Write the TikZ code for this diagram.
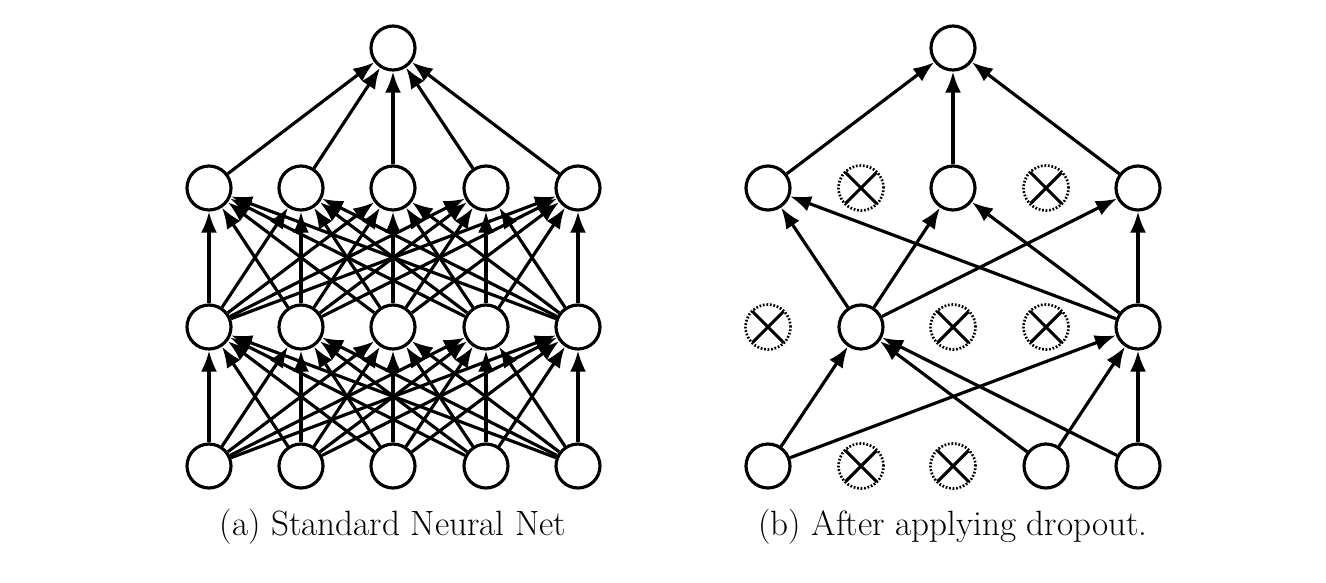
\documentclass[tikz,border=0pt]{standalone}
\usetikzlibrary{arrows.meta}
\tikzset{
  neuron/.style={circle, draw, line width=1.8pt, minimum size=0.88cm, inner sep=0pt},
  dropped/.style={circle, draw, dash pattern=on 1pt off 1pt, line width=1.5pt, minimum size=0.9cm, inner sep=0pt,
    path picture={\draw[solid, line width=1.8pt, shorten >=0.2cm, shorten <=0.2cm]
      (path picture bounding box.north west) -- (path picture bounding box.south east)
      (path picture bounding box.north east) -- (path picture bounding box.south west);}},
  conn/.style={-{Latex[length=0.42cm,width=0.32cm]}, line width=1.8pt},
  caption/.style={font=\fontsize{20}{24}\selectfont},
}
\begin{document}
\begin{tikzpicture}[x=0.02cm, y=-0.02cm]
    \useasboundingbox (0,0) rectangle (1326,582);

    % (a) standard net
    \foreach \l/\y in {0/466,1/327,2/188}
      \foreach \i/\x in {1/209,2/301,3/393,4/486,5/578}
        \node[neuron] (a\l\i) at (\x,\y) {};
    \node[neuron] (atop) at (393,48) {};
    \foreach \i in {1,...,5}
      \foreach \j in {1,...,5} {
        \draw[conn] (a0\i) -- (a1\j);
        \draw[conn] (a1\i) -- (a2\j);
      }
    \foreach \i in {1,...,5}
      \draw[conn] (a2\i) -- (atop);
    \node[caption] (capa) at (393,527) {(a) Standard Neural Net};

    % (b) after dropout
    \foreach \i/\x/\s in {1/768/neuron,2/861/dropped,3/953/dropped,4/1046/neuron,5/1138/neuron}
      \node[\s] (b0\i) at (\x,466) {};
    \foreach \i/\x/\s in {1/768/dropped,2/861/neuron,3/953/dropped,4/1046/dropped,5/1138/neuron}
      \node[\s] (b1\i) at (\x,327) {};
    \foreach \i/\x/\s in {1/768/neuron,2/861/dropped,3/953/neuron,4/1046/dropped,5/1138/neuron}
      \node[\s] (b2\i) at (\x,188) {};
    \node[neuron] (btop) at (953,48) {};
    \foreach \s/\t in {b01/b12,b01/b15,b04/b12,b04/b15,b05/b12,b05/b15,
                       b12/b21,b12/b23,b12/b25,b15/b21,b15/b23,b15/b25,
                       b21/btop,b23/btop,b25/btop}
      \draw[conn] (\s) -- (\t);
    \node[caption] (capb) at (953,527) {(b) After applying dropout.};
\end{tikzpicture}
\end{document}
